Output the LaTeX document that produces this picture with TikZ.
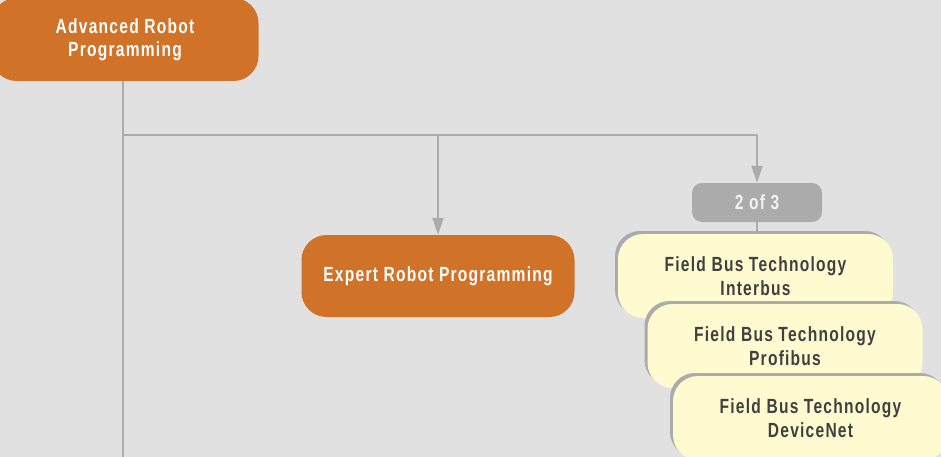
\documentclass[tikz,border=0pt]{standalone}
\usepackage{fontspec}
\setmainfont{Liberation Sans}[FakeStretch=0.76,LetterSpace=6]
\usetikzlibrary{arrows.meta,shadows}
\definecolor{bgcol}{HTML}{E1E1E1}
\definecolor{lincol}{HTML}{ABABAB}
\definecolor{orcol}{HTML}{D07228}
\definecolor{yelcol}{HTML}{FFFAD0}
\definecolor{txtcol}{HTML}{404040}
\begin{document}
\begin{tikzpicture}[x=1pt, y=-1pt, line join=round, >={Triangle[length=17pt,width=11pt]},
  font=\fontsize{20.5}{23.5}\selectfont\bfseries,
  link/.style={draw=lincol, line width=1.8pt},
  orbox/.style={fill=orcol, text=white, rounded corners=25pt, align=center, minimum height=82pt},
  countbox/.style={fill=lincol, text=white!95!black, rounded corners=10pt, minimum width=130pt, minimum height=39pt},
  busbox/.style={fill=yelcol, text=txtcol, rounded corners=25pt, align=center, minimum width=275pt, minimum height=84pt,
    drop shadow={shadow xshift=-3pt, shadow yshift=3pt, fill=lincol, opacity=1}}]
\def\W{941} \def\H{457}
\useasboundingbox[fill=bgcol] (0,0) rectangle (\W,\H);
% top box and trunk line
\node[orbox, minimum width=267pt, minimum height=83pt] (adv) at (125,39.5) {Advanced Robot\\Programming};
\coordinate (trunk) at (123,135);
\coordinate (trunkend) at (123,\H);
\draw[link] (trunk |- adv.south) -- (trunkend);
% courses
\node[orbox, minimum width=273pt] (expert) at (438,276) {Expert Robot Programming};
\node[countbox] (count) at (757,202.5) {2 of 3};
\node[busbox] (fb1) at (755.5,276) {Field Bus Technology\\Interbus};
\node[busbox] (fb2) at (785,346) {Field Bus Technology\\Profibus};
\node[busbox] (fb3) at (810.5,418) {Field Bus Technology\\DeviceNet};
\draw[link,->] (trunk) -| (count.north);
\draw[link,->] (trunk -| expert.north) -- (expert.north);
\draw[link] (count.south) -- (count.south |- fb1.north);
\end{tikzpicture}
\end{document}
